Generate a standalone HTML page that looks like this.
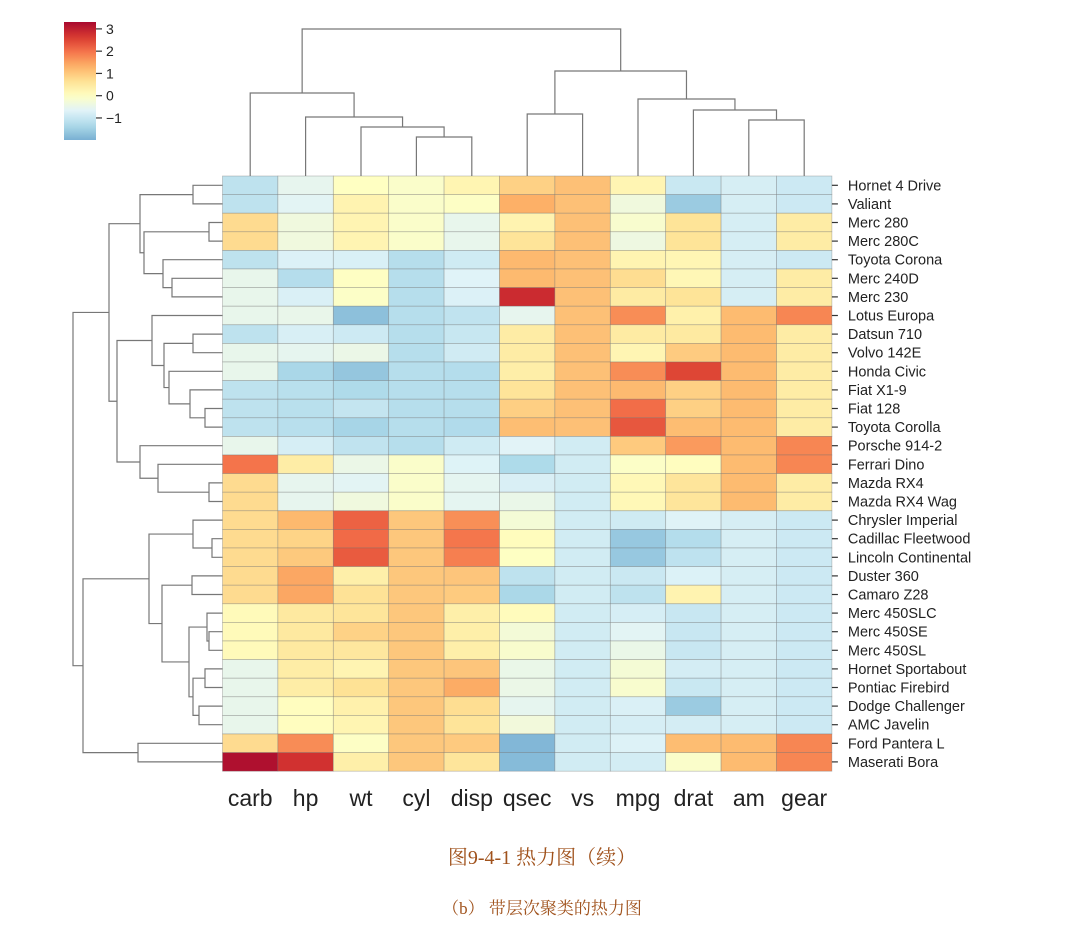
<!DOCTYPE html>
<html><head><meta charset="utf-8"><style>
html,body{margin:0;padding:0;background:#fff;}
svg{display:block;font-family:"Liberation Sans",Arial,sans-serif;}
</style></head><body>
<svg id="chart" width="1085" height="932" viewBox="0 0 1085 932">
<defs><linearGradient id="cbgrad" x1="0" y1="1" x2="0" y2="0"></linearGradient></defs>
<g id="cb"></g>
<g id="coldend"></g>
<g id="rowdend"></g>
<g id="cells"></g>
<g id="rlabels"></g>
<g id="clabels"></g>
<text x="542" y="864" text-anchor="middle" font-size="20" fill="#a0521c" font-family="Liberation Serif,'Noto Serif CJK SC',serif">图9-4-1 热力图（续）</text>
<text x="542" y="914" text-anchor="middle" font-size="17" fill="#a0521c" font-family="Liberation Serif,'Noto Serif CJK SC',serif">（b） 带层次聚类的热力图</text>
</svg>
<script>
const rowNames=["Hornet 4 Drive","Valiant","Merc 280","Merc 280C","Toyota Corona","Merc 240D","Merc 230","Lotus Europa","Datsun 710","Volvo 142E","Honda Civic","Fiat X1-9","Fiat 128","Toyota Corolla","Porsche 914-2","Ferrari Dino","Mazda RX4","Mazda RX4 Wag","Chrysler Imperial","Cadillac Fleetwood","Lincoln Continental","Duster 360","Camaro Z28","Merc 450SLC","Merc 450SE","Merc 450SL","Hornet Sportabout","Pontiac Firebird","Dodge Challenger","AMC Javelin","Ford Pantera L","Maserati Bora"];
const colNames=["carb","hp","wt","cyl","disp","qsec","vs","mpg","drat","am","gear"];
const mpg=[21.4,18.1,19.2,17.8,21.5,24.4,22.8,30.4,22.8,21.4,30.4,27.3,32.4,33.9,26,19.7,21,21,14.7,10.4,10.4,14.3,13.3,15.2,16.4,17.3,18.7,19.2,15.5,15.2,15.8,15];
const cyl=[6,6,6,6,4,4,4,4,4,4,4,4,4,4,4,6,6,6,8,8,8,8,8,8,8,8,8,8,8,8,8,8];
const disp=[258,225,167.6,167.6,120.1,146.7,140.8,95.1,108,121,75.7,79,78.7,71.1,120.3,145,160,160,440,472,460,360,350,275.8,275.8,275.8,360,400,318,304,351,301];
const hp=[110,105,123,123,97,62,95,113,93,109,52,66,66,65,91,175,110,110,230,205,215,245,245,180,180,180,175,175,150,150,264,335];
const drat=[3.08,2.76,3.92,3.92,3.70,3.69,3.92,3.77,3.85,4.11,4.93,4.08,4.08,4.22,4.43,3.62,3.9,3.9,3.23,2.93,3.0,3.21,3.73,3.07,3.07,3.07,3.15,3.08,2.76,3.15,4.22,3.54];
const wt=[3.215,3.46,3.44,3.44,2.465,3.19,3.15,1.513,2.32,2.78,1.615,1.935,2.2,1.835,2.14,2.77,2.62,2.875,5.345,5.25,5.424,3.57,3.84,3.78,4.07,3.73,3.44,3.845,3.52,3.435,3.17,3.57];
const qsec=[19.44,20.22,18.3,18.9,20.01,20,22.9,16.9,18.61,18.6,18.52,18.9,19.47,19.9,16.7,15.5,16.46,17.02,17.42,17.98,17.82,15.84,15.41,18,17.4,17.6,17.02,17.05,16.87,17.3,14.5,14.6];
const vs=[1,1,1,1,1,1,1,1,1,1,1,1,1,1,0,0,0,0,0,0,0,0,0,0,0,0,0,0,0,0,0,0];
const am=[0,0,0,0,0,0,0,1,1,1,1,1,1,1,1,1,1,1,0,0,0,0,0,0,0,0,0,0,0,0,1,1];
const gear=[3,3,4,4,3,4,4,5,4,4,4,4,4,4,5,5,4,4,3,3,3,3,3,3,3,3,3,3,3,3,5,5];
const carb=[1,1,4,4,1,2,2,2,1,2,2,1,1,1,2,6,4,4,4,4,4,4,4,3,3,3,2,2,2,2,4,8];
const colTicks=[3,2,1,0,-1];
const rowMerges=[[0,1,193],[2,3,209],[5,6,172],[4,34,163],[33,35,144],[32,36,140],
[8,9,193],[12,13,205],[11,39,190],[10,40,169],[38,41,164],[7,42,152],
[16,17,209],[15,44,158],[14,45,140],[43,46,117],[37,47,109],
[19,20,212],[18,49,193],[21,22,192],[24,25,209],[23,52,207],[26,27,205],[28,29,199],[54,55,193],[53,56,189],[51,57,162],[50,58,149],[30,31,138],[59,60,83],[48,61,73]];
const colMerges=[[3,4,137],[2,11,127],[1,12,117],[0,13,93],[9,10,120],[8,15,110],[7,16,99],[5,6,114],[18,17,71],[14,19,29]];

const svg=document.getElementById('chart');
const NS='http://www.w3.org/2000/svg';
const X0=222.5,Y0=176,CW=55.4,RH=18.6;
const nR=rowNames.length,nC=colNames.length;
const cols={carb,hp,wt,cyl,disp,qsec,vs,mpg,drat,am,gear};
function zs(a){const m=a.reduce((s,v)=>s+v,0)/a.length;const sd=Math.sqrt(a.reduce((s,v)=>s+(v-m)*(v-m),0)/(a.length-1));return a.map(v=>sd?(v-m)/sd:0);}
const Z=colNames.map(c=>zs(cols[c]));
const stops=["#313695","#4575b4","#74add1","#abd9e9","#e0f3f8","#ffffbf","#fee090","#fdae61","#f46d43","#d73027","#a50026"];
const VMAX=3.3;
function hx(h){return [1,3,5].map(i=>parseInt(h.substr(i,2),16));}
function cmap(v){let t=(v+VMAX)/(2*VMAX);t=Math.max(0,Math.min(1,t))*10;const i=Math.min(9,Math.floor(t)),f=t-i;const a=hx(stops[i]),b=hx(stops[i+1]);
 const c=a.map((x,k)=>Math.round(x+(b[k]-x)*f));
 return 'rgb('+c.map(x=>Math.round(x*0.96+255*0.04)).join(',')+')';}
function xS(c){return X0+c*CW;}
function yS(r){return Y0+r*RH;}
function el(tag,attrs,parent){const e=document.createElementNS(NS,tag);for(const k in attrs)e.setAttribute(k,attrs[k]);parent.appendChild(e);return e;}

const cells=document.getElementById('cells');
for(let r=0;r<nR;r++)for(let c=0;c<nC;c++){
 const e=el('rect',{x:xS(c),y:yS(r),width:CW,height:RH,fill:cmap(Z[c][r]),stroke:'rgba(110,110,110,0.45)','stroke-width':0.7},cells);
 
 
}
const rl=document.getElementById('rlabels');
const xR=xS(nC);
rowNames.forEach((n,r)=>{const y=yS(r)+RH/2;
 const t=el('line',{x1:xR,x2:xR+6,y1:y,y2:y,stroke:'#333','stroke-width':1.2},rl);
 
 
 const e=el('text',{x:xR+16,y:y+5,'font-size':14.5,fill:'#222'},rl);e.textContent=n;
 
 
});
const cl=document.getElementById('clabels');
colNames.forEach((n,c)=>{const e=el('text',{x:xS(c)+CW/2,y:806,'font-size':23,'text-anchor':'middle',fill:'#222'},cl);e.textContent=n;
 
 
});
function dend(merges,n,isRow,g){
 const pos=[],h=[];
 for(let i=0;i<n;i++){pos.push(isRow?yS(i)+RH/2:xS(i)+CW/2);h.push(isRow?X0:Y0);}
 merges.forEach(m=>{const [a,b,hh]=m;
  const p1=pos[a],p2=pos[b];
  const d=isRow?`M${h[a]},${p1}H${hh}V${p2}H${h[b]}`:`M${p1},${h[a]}V${hh}H${p2}V${h[b]}`;
  const e=el('path',{d:d,fill:'none',stroke:'#777','stroke-width':1.2},g);
  
  
  pos.push((p1+p2)/2);h.push(hh);});
}
dend(rowMerges,nR,true,document.getElementById('rowdend'));
dend(colMerges,nC,false,document.getElementById('coldend'));
const cb=document.getElementById('cb');
const CBT=22,CBB=140,CBmax=3.31,CBmin=-1.99;
function cbY(v){return CBT+(CBmax-v)/(CBmax-CBmin)*(CBB-CBT);}
const grad=document.getElementById('cbgrad');
for(let i=0;i<=20;i++){const v=CBmin+(CBmax-CBmin)*i/20;el('stop',{offset:(i*5)+'%','stop-color':cmap(v)},grad);}
const cbr=el('rect',{x:64,y:CBT,width:32,height:CBB-CBT,fill:'url(#cbgrad)'},cb);


colTicks.forEach(v=>{const y=cbY(v);
 const l=el('line',{x1:96,x2:102,y1:y,y2:y,stroke:'#333','stroke-width':1.2},cb);
 
 
 const t=el('text',{x:106,y:y+5,'font-size':14,fill:'#222'},cb);t.textContent=v<0?'\u2212'+(-v):String(v);
 
 
});
</script>
</body></html>
